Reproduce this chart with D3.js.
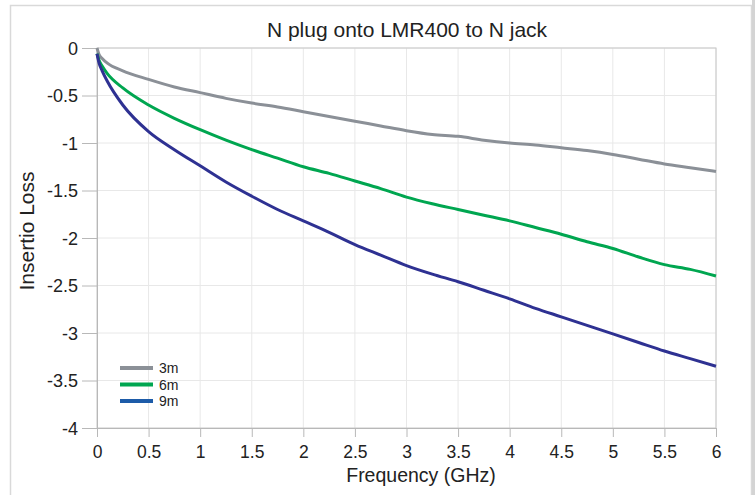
<!DOCTYPE html>
<html>
<head>
<meta charset="utf-8">
<script src="https://cdn.jsdelivr.net/npm/d3@7"></script>
<style>
  body { margin: 0; background: #fff; }
  svg { display: block; font-family: "Liberation Sans", Arial, sans-serif; }
</style>
</head>
<body>
<div id="chart"></div>
<script>
// frequency points (GHz)
var freqs = [0, 0.02, 0.05, 0.1, 0.25, 0.5, 0.75, 1, 1.25, 1.5, 1.75, 2, 2.25, 2.5, 2.75, 3, 3.25, 3.5, 3.75, 4, 4.25, 4.5, 4.75, 5, 5.25, 5.5, 5.75, 6];
var loss3m = [0, -0.07, -0.11, -0.16, -0.24, -0.33, -0.41, -0.47, -0.53, -0.58, -0.62, -0.67, -0.72, -0.77, -0.82, -0.87, -0.91, -0.93, -0.97, -1.0, -1.02, -1.05, -1.08, -1.12, -1.17, -1.22, -1.26, -1.30];
var loss6m = [-0.06, -0.13, -0.19, -0.27, -0.42, -0.60, -0.74, -0.86, -0.97, -1.07, -1.16, -1.25, -1.32, -1.40, -1.48, -1.57, -1.64, -1.70, -1.76, -1.82, -1.89, -1.96, -2.04, -2.11, -2.20, -2.28, -2.33, -2.40];
var loss9m = [-0.06, -0.16, -0.24, -0.35, -0.60, -0.88, -1.07, -1.24, -1.41, -1.56, -1.70, -1.82, -1.94, -2.07, -2.18, -2.29, -2.38, -2.46, -2.55, -2.64, -2.74, -2.83, -2.92, -3.01, -3.10, -3.19, -3.27, -3.35];

var seriesNames = ["3m", "6m", "9m"];
var xTicks = [0, 0.5, 1, 1.5, 2, 2.5, 3, 3.5, 4, 4.5, 5, 5.5, 6];
var yTicks = [0, -0.5, -1, -1.5, -2, -2.5, -3, -3.5, -4];

var lineColors = ["#8b9097", "#00a650", "#2e3192"];
var legendColors = ["#8b9097", "#00a650", "#1d5ba8"];

var width = 755, height = 495;
var margin = {top: 48, right: 39, bottom: 67, left: 97};
var innerW = width - margin.left - margin.right;
var innerH = height - margin.top - margin.bottom;

var svg = d3.select("#chart").append("svg")
    .attr("width", width)
    .attr("height", height);

// outer frame
svg.append("rect")
    .attr("x", 10.5).attr("y", 5.5)
    .attr("width", 741).attr("height", 500)
    .attr("fill", "#fff")
    .attr("stroke", "#d9d9d9")
    .attr("stroke-width", 1.5);
svg.append("rect")
    .attr("x", 752).attr("y", 0)
    .attr("width", 3).attr("height", height)
    .attr("fill", "#d4d4d4");

var xScale = d3.scaleLinear().domain([0, 6]).range([0, innerW]);
var yScale = d3.scaleLinear().domain([-4, 0]).range([innerH, 0]);

var g = svg.append("g")
    .attr("transform", "translate(" + margin.left + "," + margin.top + ")");

// grid
g.append("g").selectAll("line")
    .data(xTicks.slice(1))
    .enter().append("line")
    .attr("x1", d => xScale(d)).attr("x2", d => xScale(d))
    .attr("y1", 0).attr("y2", innerH)
    .attr("stroke", "#e8e8e8");
g.append("g").selectAll("line")
    .data(yTicks.slice(0, -1))
    .enter().append("line")
    .attr("x1", 0).attr("x2", innerW)
    .attr("y1", d => yScale(d)).attr("y2", d => yScale(d))
    .attr("stroke", "#e8e8e8");

// plot frame top/right
g.append("rect")
    .attr("width", innerW).attr("height", innerH)
    .attr("fill", "none")
    .attr("stroke", "#c8c8c8");

// axes (plain hyphen for negatives, like the original)
var fmt = d => String(d);
var xAxis = g.append("g")
    .attr("transform", "translate(0," + innerH + ")")
    .call(d3.axisBottom(xScale).tickValues(xTicks).tickSize(9).tickPadding(9).tickFormat(fmt));
var yAxis = g.append("g")
    .call(d3.axisLeft(yScale).tickValues(yTicks).tickSize(15).tickPadding(4).tickFormat(fmt));

[xAxis, yAxis].forEach(function(ax){
    ax.select(".domain").attr("stroke", "#b8b8b8");
    ax.selectAll(".tick line").attr("stroke", "#b8b8b8");
    ax.selectAll(".tick text")
        .attr("fill", "#222")
        .style("font-size", "18px")
        .style("font-family", "'Liberation Sans', Arial, sans-serif");
});
xAxis.selectAll(".tick text").style("font-size", "17.5px");
yAxis.selectAll(".tick text").attr("dy", "0.35em");

// curves
var allSeries = [loss3m, loss6m, loss9m];
var line = d3.line()
    .x(d => xScale(d[0]))
    .y(d => yScale(d[1]))
    .curve(d3.curveMonotoneX);

allSeries.forEach(function(vals, i){
    g.append("path")
        .datum(freqs.map((f, j) => [f, vals[j]]))
        .attr("fill", "none")
        .attr("stroke", lineColors[i])
        .attr("stroke-width", 3)
        .attr("stroke-linejoin", "round")
        .attr("d", line);
});

// legend
var legend = svg.append("g").attr("transform", "translate(120,368)");
seriesNames.forEach(function(name, i){
    legend.append("line")
        .attr("x1", 0).attr("x2", 33)
        .attr("y1", i * 16.5).attr("y2", i * 16.5)
        .attr("stroke", legendColors[i])
        .attr("stroke-width", 4);
    legend.append("text")
        .attr("x", 39).attr("y", i * 16.5 + 5)
        .attr("fill", "#222")
        .style("font-size", "14px")
        .text(name);
});

// titles
svg.append("text")
    .attr("x", 407).attr("y", 37)
    .attr("text-anchor", "middle")
    .attr("fill", "#222")
    .style("font-size", "21px")
    .text("N plug onto LMR400 to N jack");

svg.append("text")
    .attr("x", 421).attr("y", 482)
    .attr("text-anchor", "middle")
    .attr("fill", "#222")
    .style("font-size", "19.5px")
    .text("Frequency (GHz)");

svg.append("text")
    .attr("transform", "translate(34,231) rotate(-90)")
    .attr("text-anchor", "middle")
    .attr("fill", "#222")
    .style("font-size", "21px")
    .text("Insertio Loss");
</script>
</body>
</html>
